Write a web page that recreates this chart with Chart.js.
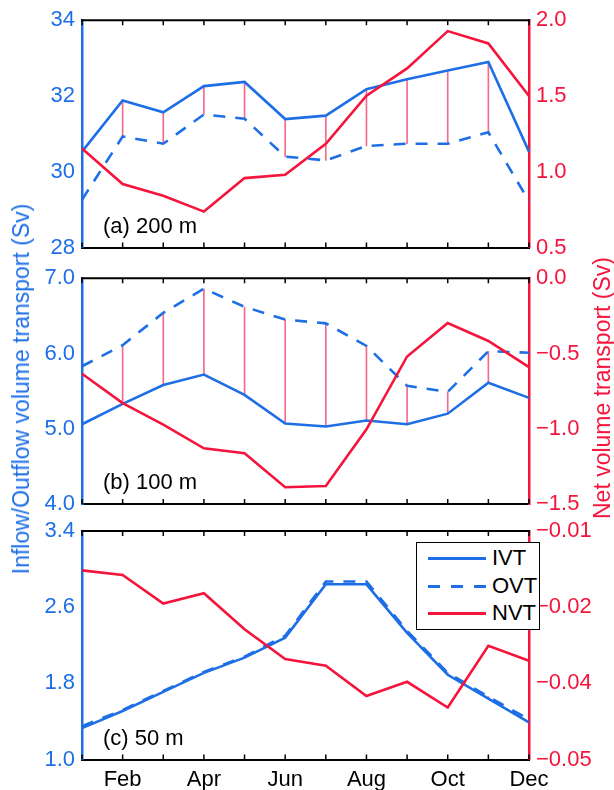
<!DOCTYPE html>
<html lang="en">
<head>
  <meta charset="UTF-8" />
  <title>Volume transport by depth</title>
  <script src="https://cdn.jsdelivr.net/npm/chart.js"></script>
  <style>
    body {
      margin: 0;
      background: #fff;
      font-family: "Liberation Sans", Arial, sans-serif;
    }
    #fig {
      position: relative;
      width: 614px;
      height: 790px;
      overflow: hidden;
    }
    canvas {
      position: absolute;
      left: 0;
    }
    .ytitle {
      position: absolute;
      font-size: 23px;
      line-height: 26px;
      white-space: nowrap;
      transform: translate(-50%, -50%) rotate(-90deg);
    }
    #legend {
      position: absolute;
      left: 416px;
      top: 542px;
      width: 124px;
      height: 88px;
      box-sizing: border-box;
      border: 1.3px solid #000;
      background: #fff;
      font-size: 22px;
    }
    #legend .sw {
      position: absolute;
      left: 11px;
      width: 58px;
      height: 3px;
    }
    #legend .txt {
      position: absolute;
      left: 75px;
      line-height: 26px;
    }
  </style>
</head>
<body>

<div id="fig">
  <canvas id="pa" width="614" height="270" style="top:0px"></canvas>
  <canvas id="pb" width="614" height="270" style="top:258px"></canvas>
  <canvas id="pc" width="614" height="280" style="top:510px"></canvas>

  <div class="ytitle" style="left:21px; top:389px; color:#1e6fe6;">Inflow/Outflow volume transport (Sv)</div>
  <div class="ytitle" style="left:602px; top:388px; color:#f5143c;">Net volume transport (Sv)</div>

  <div id="legend">
    <div class="sw" style="top:14px; background:#1e6fe6;"></div>
    <div class="txt" style="top:2px;">IVT</div>
    <div class="sw" style="top:42px; background:repeating-linear-gradient(to right, #1e6fe6 0 12px, transparent 12px 23px);"></div>
    <div class="txt" style="top:30px;">OVT</div>
    <div class="sw" style="top:69px; background:#f5143c;"></div>
    <div class="txt" style="top:57px;">NVT</div>
  </div>
</div>

<script>
  const BLUE = '#1e6fe6';
  const RED = '#f5143c';
  const PINK = 'rgba(240, 70, 110, 0.8)';

  const months = ['Jan', 'Feb', 'Mar', 'Apr', 'May', 'Jun', 'Jul', 'Aug', 'Sep', 'Oct', 'Nov', 'Dec'];

  // (a) 200 m
  const ivt200 = [30.53, 31.88, 31.57, 32.26, 32.37, 31.39, 31.48, 32.18, 32.44, 32.67, 32.90, 30.53];
  const ovt200 = [29.26, 30.93, 30.74, 31.51, 31.40, 30.40, 30.30, 30.68, 30.74, 30.74, 31.04, 29.22];
  const nvt200 = [1.153, 0.919, 0.842, 0.737, 0.958, 0.980, 1.184, 1.502, 1.682, 1.928, 1.847, 1.500];

  // (b) 100 m
  const ivt100 = [5.06, 5.33, 5.58, 5.72, 5.45, 5.07, 5.03, 5.11, 5.06, 5.20, 5.61, 5.41];
  const ovt100 = [5.83, 6.11, 6.54, 6.86, 6.62, 6.45, 6.40, 6.10, 5.57, 5.49, 6.03, 6.01];
  const nvt100 = [-0.635, -0.830, -0.972, -1.130, -1.163, -1.389, -1.380, -1.004, -0.520, -0.298, -0.417, -0.591];

  // (c) 50 m
  const ivt50 = [1.33, 1.51, 1.71, 1.91, 2.07, 2.28, 2.84, 2.84, 2.33, 1.89, 1.64, 1.39];
  const ovt50 = [1.35, 1.52, 1.72, 1.92, 2.08, 2.30, 2.87, 2.87, 2.35, 1.91, 1.66, 1.42];
  const nvt50 = [-0.0169, -0.0177, -0.0227, -0.0209, -0.0272, -0.0324, -0.0336, -0.0389, -0.0364, -0.0409, -0.0301, -0.0327];

  // axis ticks
  const leftTicks200 = [28, 30, 32, 34];
  const rightTicks200 = [0.5, 1.0, 1.5, 2.0];
  const leftTicks100 = [4, 5, 6, 7];
  const rightTicks100 = [-1.5, -1.0, -0.5, 0];
  const leftTicks50 = [1.0, 1.8, 2.6, 3.4];
  const rightTicks50 = [-0.05, -0.03667, -0.02333, -0.01];

  Chart.defaults.font.family = '"Liberation Sans", Arial, sans-serif';
  Chart.defaults.font.size = 22;

  const fmt = (v, d) => v.toFixed(d).replace('-', '\u2212');

  // top border, inward month ticks and panel label
  const frame = {
    id: 'frame',
    afterDatasetsDraw(chart, args, opts) {
      const { ctx, chartArea: a, scales: { x } } = chart;
      ctx.save();
      ctx.strokeStyle = '#000';
      ctx.lineWidth = 2;
      ctx.beginPath();
      ctx.moveTo(a.left - 1, a.top);
      ctx.lineTo(a.right + 1, a.top);
      ctx.stroke();
      ctx.lineWidth = 1.5;
      x.ticks.forEach((t, i) => {
        const px = x.getPixelForTick(i);
        ctx.beginPath();
        ctx.moveTo(px, a.top);
        ctx.lineTo(px, a.top + 5);
        ctx.moveTo(px, a.bottom);
        ctx.lineTo(px, a.bottom - 5);
        ctx.stroke();
      });
      ctx.fillStyle = '#000';
      ctx.font = '22px "Liberation Sans", Arial, sans-serif';
      ctx.textBaseline = 'middle';
      ctx.fillText(opts.text, a.left + 21, a.bottom - 21);
      ctx.restore();
    }
  };

  function makePanel(id, p) {
    // thin red lines between inflow and outflow, Feb to Nov
    const diff = p.ivt.map((v, i) => (i > 0 && i < 11) ? [v, p.ovt[i]] : null);

    return new Chart(document.getElementById(id), {
      type: 'line',
      data: {
        labels: months,
        datasets: [
          { label: 'NVT', data: p.nvt, yAxisID: 'y1', borderColor: RED, borderWidth: 2.6, pointRadius: 0, tension: 0, order: 0 },
          { label: 'IVT', data: p.ivt, yAxisID: 'y', borderColor: BLUE, borderWidth: 2.6, pointRadius: 0, tension: 0, order: 1 },
          { label: 'OVT', data: p.ovt, yAxisID: 'y', borderColor: BLUE, borderWidth: 2.6, borderDash: [12, 10], pointRadius: 0, tension: 0, order: 2 },
          { type: 'bar', label: 'diff', data: diff, yAxisID: 'y', backgroundColor: PINK, barThickness: 1, order: 3 }
        ]
      },
      options: {
        responsive: false,
        animation: false,
        layout: { padding: { top: p.padTop, bottom: p.padBottom, left: 0, right: 0 } },
        plugins: {
          legend: { display: false },
          tooltip: { enabled: false },
          frame: { text: p.label }
        },
        scales: {
          x: {
            offset: false,
            grid: { offset: false, drawOnChartArea: false, drawTicks: false },
            border: { color: '#000', width: 2 },
            ticks: {
              display: p.showX,
              color: '#000',
              autoSkip: false,
              maxRotation: 0,
              padding: 7,
              callback(val, i) { return i % 2 === 1 ? this.getLabelForValue(val) : ''; }
            },
            afterFit(s) { s.height = p.xHeight; }
          },
          y: {
            position: 'left',
            min: p.leftTicks[0],
            max: p.leftTicks[p.leftTicks.length - 1],
            afterBuildTicks(s) { s.ticks = p.leftTicks.map(v => ({ value: v })); },
            ticks: { color: BLUE, padding: 7, callback: v => fmt(v, p.leftDigits) },
            border: { color: BLUE, width: 2.5 },
            grid: { drawOnChartArea: false, drawTicks: false },
            afterFit(s) { s.width = 82; }
          },
          y1: {
            position: 'right',
            min: p.rightTicks[0],
            max: p.rightTicks[p.rightTicks.length - 1],
            afterBuildTicks(s) { s.ticks = p.rightTicks.map(v => ({ value: v })); },
            ticks: { color: RED, padding: 7, callback: v => fmt(v, p.rightDigits) },
            border: { color: RED, width: 2.5 },
            grid: { drawOnChartArea: false, drawTicks: false },
            afterFit(s) { s.width = 85; }
          }
        }
      },
      plugins: [frame]
    });
  }

  makePanel('pa', {
    ivt: ivt200, ovt: ovt200, nvt: nvt200, label: '(a) 200 m',
    leftTicks: leftTicks200, rightTicks: rightTicks200, leftDigits: 0, rightDigits: 1,
    padTop: 19.5, padBottom: 22.5, xHeight: 0, showX: false
  });

  makePanel('pb', {
    ivt: ivt100, ovt: ovt100, nvt: nvt100, label: '(b) 100 m',
    leftTicks: leftTicks100, rightTicks: rightTicks100, leftDigits: 1, rightDigits: 1,
    padTop: 18.5, padBottom: 24, xHeight: 0, showX: false
  });

  makePanel('pc', {
    ivt: ivt50, ovt: ovt50, nvt: nvt50, label: '(c) 50 m',
    leftTicks: leftTicks50, rightTicks: rightTicks50, leftDigits: 1, rightDigits: 2,
    padTop: 21, padBottom: 0, xHeight: 30.5, showX: true
  });
</script>

</body>
</html>
